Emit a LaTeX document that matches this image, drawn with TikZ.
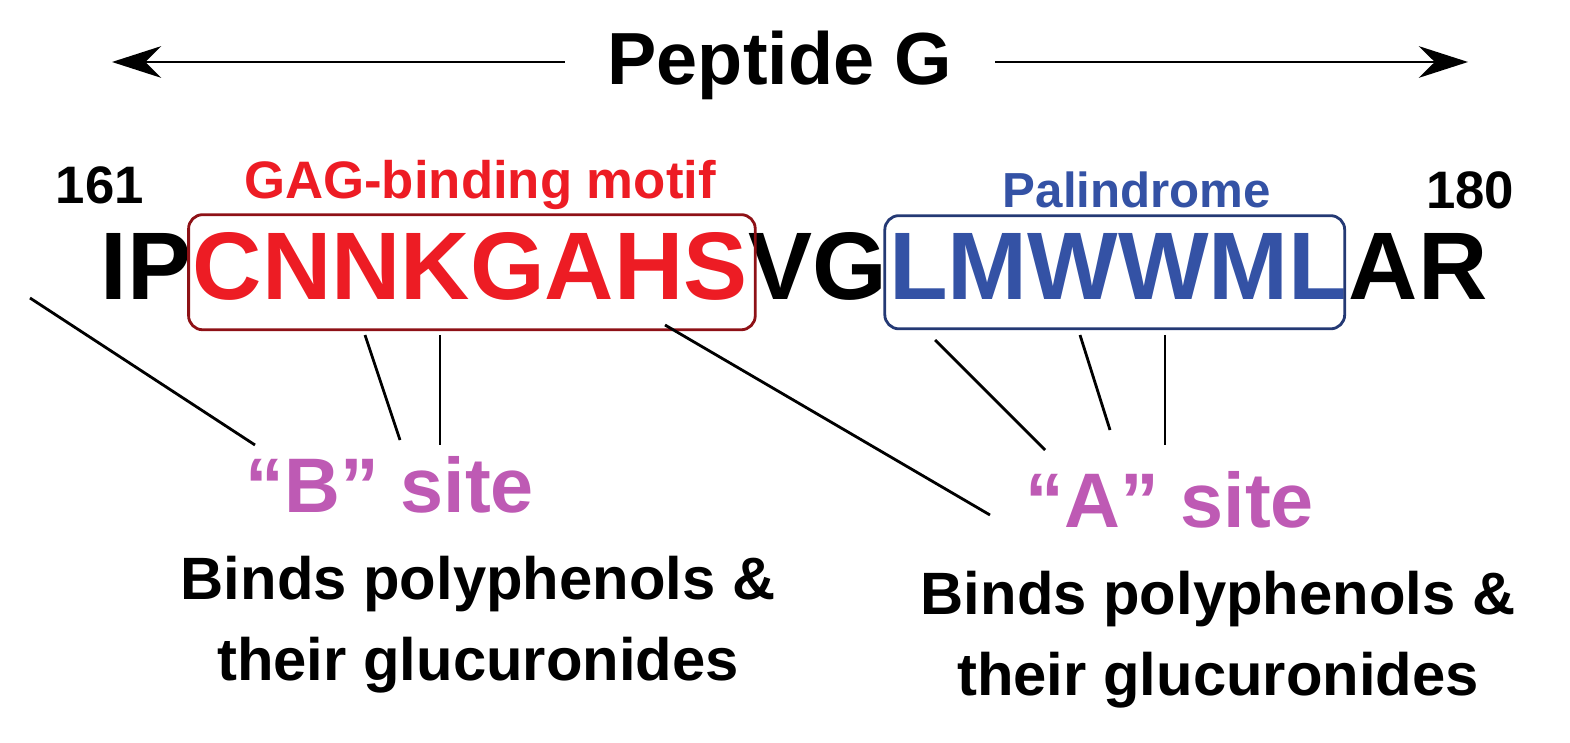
\documentclass[tikz,border=0pt]{standalone}
\usepackage{fontspec}
\setmainfont{Liberation Sans}
\usetikzlibrary{positioning,arrows.meta}
\definecolor{gagred}{RGB}{237,28,36}
\definecolor{palblue}{RGB}{52,82,165}
\definecolor{sitepink}{RGB}{190,90,180}
\tikzset{
  seq/.style={font=\fontsize{27.3}{27.3}\selectfont\bfseries, inner sep=0pt, anchor=base west},
  lab/.style={font=\fontsize{15}{15}\selectfont\bfseries, inner sep=0pt},
  site/.style={font=\fontsize{22}{22}\selectfont\bfseries, text=sitepink, inner sep=0pt},
  note/.style={font=\fontsize{17}{17}\selectfont\bfseries, align=center, inner sep=0pt},
  tie/.style={line width=0.8pt}
}
\begin{document}
\begin{tikzpicture}[x=0.01cm,y=-0.01cm]
\useasboundingbox (0,0) rectangle (1570,743);
% title with arrows
\node[font=\fontsize{21}{21}\selectfont\bfseries, inner sep=0pt] (title) at (780,65) {Peptide G};
\coordinate (le) at (112,62);
\coordinate (re) at (1468,62);
\draw[-{Stealth[length=14pt,width=9pt]}, line width=0.8pt] ([xshift=-12pt]title.west |- le) -- (le);
\draw[-{Stealth[length=14pt,width=9pt]}, line width=0.8pt] ([xshift=12pt]title.east |- re) -- (re);
% sequence
\node[seq] (ip) at (100,300) {IP};
\node[seq, text=gagred, right=0pt of ip.base east, anchor=base west] (gag) {CNNKGAHS};
\node[seq, right=0pt of gag.base east, anchor=base west] (vg) {VG};
\node[seq, text=palblue, right=0pt of vg.base east, anchor=base west] (pal) {LMWWML};
\node[seq, right=0pt of pal.base east, anchor=base west] (ar) {AR};
\draw[gagred!60!black, line width=0.8pt, rounded corners=4pt] ([xshift=-1pt,yshift=5pt]gag.north west) rectangle ([xshift=2pt,yshift=-8pt]gag.south east);
\draw[palblue!70!black, line width=0.8pt, rounded corners=4pt] ([xshift=-1pt,yshift=5pt]pal.north west) rectangle ([xshift=-1pt,yshift=-8pt]pal.south east);
% labels above
\node[lab] (n161) at (100,185) {161};
\node[lab] (n180) at (1470,190) {180};
\node[lab, text=gagred] (gaglab) at (480,185) {GAG-binding motif};
\node[lab, text=palblue, font=\fontsize{14}{14}\selectfont\bfseries] (pallab) at (1137,190) {Palindrome};
% sites
\node[site] (bsite) at (390,485) {“B” site};
\node[site] (asite) at (1170,500) {“A” site};
\node[note] (bnote) at (478,625) {Binds polyphenols \&\\[6pt]their glucuronides};
\node[note] (anote) at (1218,640) {Binds polyphenols \&\\[6pt]their glucuronides};
% connectors
\coordinate (b0) at (30,298);  \coordinate (b1) at (255,445);
\coordinate (b2) at (365,335); \coordinate (b3) at (400,440);
\coordinate (b4) at (440,335); \coordinate (b5) at (440,445);
\coordinate (a0) at (665,325); \coordinate (a1) at (990,515);
\coordinate (a2) at (935,340); \coordinate (a3) at (1045,450);
\coordinate (a4) at (1080,335); \coordinate (a5) at (1110,430);
\coordinate (a6) at (1165,335); \coordinate (a7) at (1165,445);
\draw[tie] (b0) -- (b1);
\draw[tie] (b2) -- (b3);
\draw[tie] (b4) -- (b5);
\draw[tie] (a0) -- (a1);
\draw[tie] (a2) -- (a3);
\draw[tie] (a4) -- (a5);
\draw[tie] (a6) -- (a7);
\end{tikzpicture}
\end{document}
